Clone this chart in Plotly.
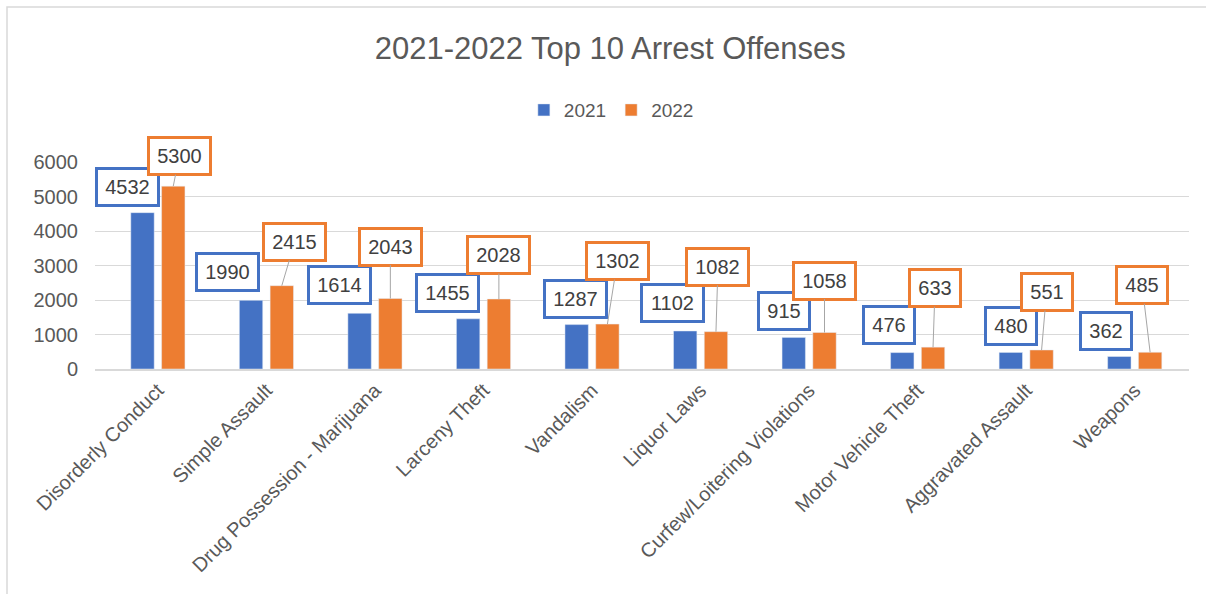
import plotly.graph_objects as go

categories = [
    "Disorderly Conduct", "Simple Assault", "Drug Possession - Marijuana",
    "Larceny Theft", "Vandalism", "Liquor Laws", "Curfew/Loitering Violations",
    "Motor Vehicle Theft", "Aggravated Assault", "Weapons",
]
arrests_2021 = [4532, 1990, 1614, 1455, 1287, 1102, 915, 476, 480, 362]
arrests_2022 = [5300, 2415, 2043, 2028, 1302, 1082, 1058, 633, 551, 485]
y_ticks = [0, 1000, 2000, 3000, 4000, 5000, 6000]

# data-label box placement (pixel offset of box centre from bar top)
label_off_2021 = [(-15, -26), (-24, -28), (-20, -28), (-21, -26), (-1, -26),
                  (-13, -28), (-10, -26), (-13, -28), (0, -26), (-13, -26)]
label_off_2022 = [(6, -30), (13, -44), (0, -52), (0, -44), (10, -63),
                  (2, -65), (0, -52), (2, -59), (5, -58), (-8, -67)]

BLUE = "#4472C4"
ORANGE = "#ED7D31"
FONT = "Liberation Sans, Arial, sans-serif"
BARGAP = 0.433

fig = go.Figure()
fig.add_trace(go.Bar(name="2021", x=categories, y=arrests_2021, marker_color=BLUE))
fig.add_trace(go.Bar(name="2022", x=categories, y=arrests_2022, marker_color=ORANGE))

annotations = []
shift = (1 - BARGAP) / 4
for series, offs, color, sgn in ((arrests_2021, label_off_2021, BLUE, -1),
                                 (arrests_2022, label_off_2022, ORANGE, 1)):
    for i, v in enumerate(series):
        txt = str(v)
        annotations.append(dict(
            x=i + sgn * shift, y=v, xref="x", yref="y",
            text=txt, showarrow=True, ax=offs[i][0], ay=offs[i][1],
            arrowhead=0, arrowwidth=1,
            arrowcolor="#A6A6A6" if sgn > 0 else "rgba(0,0,0,0)",
            standoff=0, startstandoff=0,
            bordercolor=color, borderwidth=3, borderpad=3,
            bgcolor="white", width=len(txt) * 11 + 9, height=28,
            font=dict(family=FONT, size=20, color="#404040"),
        ))

fig.update_layout(
    width=1206, height=594,
    margin=dict(l=95, r=17, t=162, b=225),
    paper_bgcolor="white", plot_bgcolor="white",
    barmode="group", bargap=BARGAP, bargroupgap=0.24,
    title=dict(text="2021-2022 Top 10 Arrest Offenses", x=0.506, xanchor="center",
               y=1 - 48 / 594, yanchor="middle",
               font=dict(family=FONT, size=31, color="#595959")),
    legend=dict(orientation="h", x=0.472, xanchor="center", y=1.251, yanchor="middle",
                font=dict(family=FONT, size=19, color="#595959"),
                bgcolor="rgba(0,0,0,0)"),
    xaxis=dict(type="category", showgrid=False, showline=True, linecolor="#D9D9D9",
               linewidth=1.5, tickangle=-45,
               tickfont=dict(family=FONT, size=20, color="#595959")),
    yaxis=dict(range=[0, 6000], tickvals=y_ticks, showgrid=True, gridcolor="#D9D9D9",
               gridwidth=1, zeroline=False, showline=False, ticklabelstandoff=16,
               tickfont=dict(family=FONT, size=20, color="#595959")),
    annotations=annotations,
    shapes=[dict(type="rect", xref="paper", yref="paper",
                 x0=(7 - 95) / 1094, x1=(1230 - 95) / 1094,
                 y0=(369 - 620) / 207, y1=(369 - 7) / 207,
                 line=dict(color="#D9D9D9", width=1.5), fillcolor="rgba(0,0,0,0)",
                 layer="below")],
)

fig.write_html("out.html", config={"displayModeBar": False},
               post_script="document.body.style.margin='0';")
